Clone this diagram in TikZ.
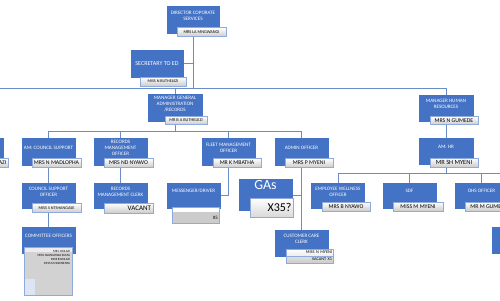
\documentclass[tikz,border=0pt]{standalone}
\usepackage{fontspec}
\setmainfont{Carlito}
\definecolor{ob}{HTML}{4472C4}
\definecolor{nb}{HTML}{8FAADC}
\definecolor{lc}{HTML}{6A8CC7}
\pgfdeclarelayer{bg}
\pgfsetlayers{bg,main}
\tikzset{
  box/.style={fill=ob, draw=ob, text=white, minimum width=53pt, minimum height=26pt,
    inner sep=1pt, align=center, font=\fontsize{5.1}{5.9}\selectfont},
  nm/.style={draw=nb, top color=white, bottom color=gray!40, minimum width=48pt,
    minimum height=9pt, inner sep=0.5pt, text=black, font=\fontsize{5.8}{6}\selectfont},
  nmr/.style={nm, text width=45pt, align=right},
  ln/.style={draw=lc, line width=0.8pt}
}
\begin{document}
\begin{tikzpicture}[x=1pt,y=-1pt]
\useasboundingbox (0,0) rectangle (500,300);
\clip (0,0) rectangle (500,300);
% level 0/1
\node[box, minimum width=52pt, minimum height=27pt] (dir) at (193,19.5) {DIRECTOR COPORATE\\SERVICES\\[1pt]};
\node[nm, minimum width=49pt, font=\fontsize{4.3}{5}\selectfont] (dirn) at (201.5,32) {MRS LA MNGWANGI};
\node[box, minimum width=52pt, minimum height=27pt, font=\fontsize{6}{6.5}\selectfont] (sec) at (157,63.5) {SECRETARY TO ED};
\node[nm, minimum width=46pt, font=\fontsize{4.1}{5}\selectfont] (secn) at (163,81.5) {MISS N BUTHELEZI};
\node[box, minimum width=54pt, minimum height=27pt] (mga) at (175,107.5) {MANAGER GENERAL\\ADMINISTRATION\\/RECORDS\\[1pt]};
\node[nm, minimum width=42pt, minimum height=8pt, font=\fontsize{4.4}{5}\selectfont] (mgan) at (186,120.5) {MR B A BUTHELEZI};
\node[box, minimum width=54pt] (mhr) at (446,108) {MANAGER HUMAN\\RESOURCES\\[2pt]};
\node[nm, minimum height=8pt] (mhrn) at (454,120.5) {MRS N GUMEDE};
\node[box, minimum width=54pt] (amhr) at (446,151) {AM: HR\\[3pt]};
\node[nm, font=\fontsize{6.4}{7}\selectfont] (amhrn) at (454,162.5) {MR SH MYENI};
% level 2 (admin)
\node[box, minimum height=27pt] (lft) at (-23.5,151.5) {};
\node[nm, anchor=east, minimum width=40pt, text width=37pt, align=right] (lftn) at (8,163) {AZI};
\node[box, minimum height=27pt] (amc) at (48.5,151.5) {AM: COUNCIL SUPPORT\\[2pt]};
\node[nm, minimum width=49pt] (amcn) at (56.5,163) {MRS N MADLOPHA};
\node[box, minimum height=27pt] (rmo) at (120.5,151.5) {RECORDS\\MANAGEMENT\\OFFICER\\[2pt]};
\node[nm, minimum width=49pt] (rmon) at (128.5,163) {MRS ND NYAWO};
\node[box, minimum height=27pt] (fleet) at (228.5,151.5) {FLEET MANAGEMENT\\OFFICER\\[2pt]};
\node[nm, minimum width=48pt] (fleetn) at (237,163) {MR K MBATHA};
\node[box, minimum height=27pt] (admin) at (301.5,151.5) {ADMIN OFFICER\\[2pt]};
\node[nm, minimum width=48pt] (adminn) at (309,163) {MRS P MYENI};
% level 3
\node[box, minimum height=25pt] (cso) at (48.5,195.5) {COUNCIL SUPPORT\\OFFICER\\[1pt]};
\node[nm, minimum width=49pt, font=\fontsize{4.2}{5}\selectfont] (cson) at (56.5,208) {MISS S NTSHANGASE};
\node[box, minimum height=25pt] (rmc) at (120.5,195.5) {RECORDS\\MANAGEMENT CLERK\\[1pt]};
\node[nmr, minimum width=49pt, minimum height=10pt, font=\fontsize{7}{8}\selectfont] (rmcn) at (128.5,208) {VACANT};
\node[box, minimum height=25pt] (msg) at (193.5,195.5) {MESSENGER/DRIVER\\[4pt]};
\node[nmr, minimum width=47pt, minimum height=16pt, shading=, top color=gray!40, bottom color=gray!40,
  text depth=0pt, font=\fontsize{5}{5}\selectfont,
  path picture={\fill[white] (path picture bounding box.north west) rectangle ([yshift=-4.5pt]path picture bounding box.north east);}]
  (msgn) at (195.5,215) {\\[-1pt]X5};
\node[box, minimum height=26pt, font=\fontsize{14}{14}\selectfont] (gas) at (265.5,195) {GAs\\[6pt]};
\node[nmr, minimum width=43pt, minimum height=19pt, text width=40pt, top color=white, bottom color=gray!30, font=\fontsize{12}{12}\selectfont] (gasn) at (271.5,207.5) {X35?};
\node[box, minimum height=25pt] (ewo) at (338,195.5) {EMPLOYEE WELLNESS\\OFFICER\\[2pt]};
\node[nm, minimum width=48pt] (ewon) at (346,206.5) {MRS B NYAWO};
\node[box, minimum height=25pt] (sdf) at (409.5,195.5) {SDF\\[3pt]};
\node[nm, minimum width=50pt] (sdfn) at (418,206.5) {MISS M MYENI};
\node[box, minimum height=25pt] (ohs) at (481.5,195.5) {OHS OFFICER\\[3pt]};
\node[nm, minimum width=48pt] (ohsn) at (489,206.5) {MR M GUMEDE};
% level 4
\node[box, minimum height=26pt] (com) at (48.5,240) {COMMITTEE OFFICERS\\[3pt]};
\node[draw=nb, fill=gray!35, minimum width=48pt, minimum height=48pt, inner sep=0pt,
  path picture={\fill[white!85!gray] (path picture bounding box.north west) rectangle ([yshift=-4pt]path picture bounding box.north east);
    \fill[nb!30!white] (path picture bounding box.south west) rectangle ([xshift=11pt,yshift=17pt]path picture bounding box.south west);}]
  (comn) at (48,271.5) {};
\node[anchor=north east, align=right, inner sep=0pt, font=\fontsize{3.2}{4.1}\selectfont] (comt) at ([xshift=-2pt,yshift=-3pt]comn.north east)
  {MR L NDLAZI\\MISS NLUNGISWA ZUMA\\MISS B NDLAZI\\MISS M NGKWENYA};
\node[box, minimum height=26pt] (ccc) at (301.5,243) {CUSTOMER CARE\\CLERK\\[2pt]};
\node[nmr, minimum width=47pt, minimum height=7pt, top color=white, bottom color=white!85!gray, font=\fontsize{4.3}{5}\selectfont] (cccn1) at (309.5,252.5) {MISS N MYENI};
\node[nmr, minimum width=47pt, minimum height=7pt, top color=gray!25, bottom color=gray!40, font=\fontsize{4.3}{5}\selectfont] (cccn2) at (309.5,259.5) {VACANT X1};
\node[box, minimum height=26pt] (rgt) at (518.5,240) {};
% connectors
\coordinate (L) at (0,88);
\coordinate (M2) at (0,131);
\coordinate (H) at (500,173.5);
\begin{pgfonlayer}{bg}
\draw[ln] (dir.south) -- (dir.south |- L);
\draw[ln] (L) -- (mhr.north |- L) -- (mhr.north);
\draw[ln] (sec.east) -- (sec.east -| dir.south);
\draw[ln] (mga.north |- L) -- (mga.north);
\draw[ln] (mga.south) -- (mga.south |- M2);
\draw[ln] (amc.north |- M2) -- (admin.north |- M2);
\foreach \n in {amc,rmo,fleet,admin} \draw[ln] (\n.north |- M2) -- (\n.north);
\draw[ln] (amc) -- (cso);
\draw[ln] (cso) -- (com);
\draw[ln] (rmo) -- (rmc);
\draw[ln] (fleet) |- (msg.east);
\draw[ln] (admin) -- (ccc);
\draw[ln] (admin |- gas) -- (gas.east);
\draw[ln] (mhr) -- (amhr);
\draw[ln] (amhr) -- (amhr |- H);
\draw[ln] (ewo.north |- H) -- (H);
\foreach \n in {ewo,sdf,ohs} \draw[ln] (\n.north |- H) -- (\n.north);
\end{pgfonlayer}
\end{tikzpicture}
\end{document}
